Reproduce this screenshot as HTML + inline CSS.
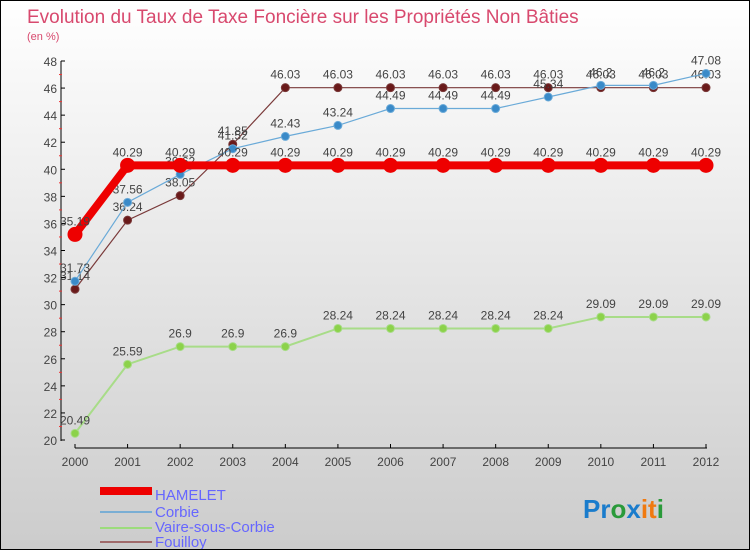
<!DOCTYPE html>
<html><head><meta charset="utf-8"><style>
body{margin:0;width:750px;height:550px;overflow:hidden;font-family:"Liberation Sans",sans-serif}
#wrap{position:relative;width:748px;height:548px;border:1px solid #000;background:linear-gradient(#fff,#ccc)}
</style></head><body>
<div id="wrap">
<svg id="chart" width="748" height="548">
<text x="26" y="22" font-size="19" fill="#d8496e">Evolution du Taux de Taxe Foncière sur les Propriétés Non Bâties</text>
<text x="26" y="39" font-size="11" fill="#d8496e">(en %)</text>
<g id="axes"></g><g id="series"></g>
<g>
<rect x="99" y="486" width="52" height="8" fill="#e00"/>
<text x="154" y="499" font-size="15" fill="#66f">HAMELET</text>
<rect x="99" y="510" width="52" height="2" fill="#7aaed4"/>
<text x="154" y="516" font-size="15" fill="#66f">Corbie</text>
<rect x="99" y="526" width="52" height="2" fill="#9cdc7c"/>
<text x="154" y="531" font-size="15" fill="#66f">Vaire-sous-Corbie</text>
<rect x="99" y="540" width="52" height="2" fill="#a06a6a"/>
<text x="154" y="546" font-size="15" fill="#66f">Fouilloy</text>
</g>
<text x="582" y="517" font-size="26" font-weight="bold"><tspan fill="#1a7ccc">Pr</tspan><tspan fill="#2a9a3a">o</tspan><tspan fill="#1a7ccc">x</tspan><tspan fill="#f07a10">it</tspan><tspan fill="#2a9a3a">i</tspan></text>
</svg></div>
<script>
const years=[2000,2001,2002,2003,2004,2005,2006,2007,2008,2009,2010,2011,2012];
const hamelet=[35.19,40.29,40.29,40.29,40.29,40.29,40.29,40.29,40.29,40.29,40.29,40.29,40.29];
const corbie=[31.73,37.56,39.62,41.52,42.43,43.24,44.49,44.49,44.49,45.34,46.2,46.2,47.08];
const vaire=[20.49,25.59,26.9,26.9,26.9,28.24,28.24,28.24,28.24,28.24,29.09,29.09,29.09];
const fouilloy=[31.14,36.24,38.05,41.85,46.03,46.03,46.03,46.03,46.03,46.03,46.03,46.03,46.03];
const yTicks=[20,22,24,26,28,30,32,34,36,38,40,42,44,46,48];
const NS="http://www.w3.org/2000/svg";
const x=i=>74+i*(631/12);
const y=v=>439-(v-20)*(379/28);
function el(t,a,p){const e=document.createElementNS(NS,t);for(const k in a)e.setAttribute(k,a[k]);p.appendChild(e);return e;}
const ax=document.getElementById('axes');
let l=el('line',{x1:60,y1:60,x2:60,y2:440,stroke:'#000'},ax);


l=el('line',{x1:74,y1:447,x2:706,y2:447,stroke:'#000'},ax);


yTicks.forEach(v=>{el('line',{x1:60,x2:64,y1:y(v),y2:y(v),stroke:'#000'},ax);
 if(v<48)el('line',{x1:58,x2:61,y1:y(v+1),y2:y(v+1),stroke:'#e33'},ax);
 const t=el('text',{x:56,y:y(v)+5,'font-size':12,'text-anchor':'end',fill:'#444'},ax);t.textContent=v;
 
 });
years.forEach((yr,i)=>{el('line',{x1:x(i),x2:x(i),y1:443,y2:447,stroke:'#000'},ax);
 const t=el('text',{x:x(i),y:465,'font-size':12,'text-anchor':'middle',fill:'#444'},ax);t.textContent=yr;
 
 });
const sg=document.getElementById('series');
function draw(name,vals,col,dot,w,r){
 const p=el('polyline',{points:vals.map((v,i)=>x(i)+','+y(v)).join(' '),fill:'none',stroke:col,'stroke-width':w},sg);
 
 
 vals.forEach((v,i)=>{const c=el('circle',{cx:x(i),cy:y(v),r:r,fill:dot,stroke:col,'stroke-width':1},sg);
  
  
  const t=el('text',{x:x(i),y:y(v)-9,'font-size':12,'text-anchor':'middle',fill:'#444'},sg);t.textContent=v;
  
  });
}
draw('vaire',vaire,'#a8dc88','#8cd24a',2,4);
draw('fouilloy',fouilloy,'#7a3a3a','#6a1a1a',1.2,4);
draw('corbie',corbie,'#6aaad8','#3a8ac8',1.2,4);
draw('hamelet',hamelet,'#e00','#e00',8,7);
</script>
</body></html>
